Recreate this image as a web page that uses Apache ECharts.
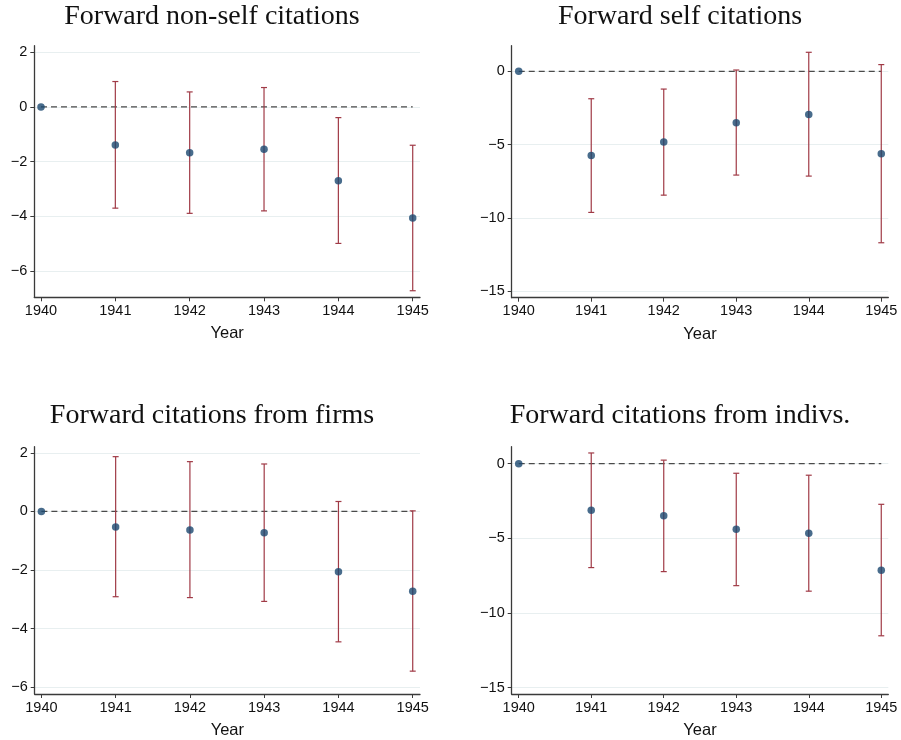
<!DOCTYPE html>
<html>
<head>
<meta charset="utf-8">
<script src="https://cdn.jsdelivr.net/npm/echarts@6/dist/echarts.min.js"></script>
<style>
html,body{margin:0;padding:0;background:#fff;}
#chart{width:901px;height:740px;}
</style>
</head>
<body>
<div id="chart"></div>
<script>
// ---------- data ----------
const years = [1940, 1941, 1942, 1943, 1944, 1945];
const titles = [
  "Forward non-self citations",
  "Forward self citations",
  "Forward citations from firms",
  "Forward citations from indivs."
];
const xAxisName = "Year";

const nonSelfEst = [0, -1.39, -1.67, -1.55, -2.70, -4.06];
const nonSelfLo  = [null, -3.70, -3.89, -3.80, -4.99, -6.72];
const nonSelfHi  = [null, 0.93, 0.55, 0.71, -0.39, -1.40];

const selfEst = [0, -5.74, -4.83, -3.51, -2.94, -5.62];
const selfLo  = [null, -9.63, -8.45, -7.08, -7.15, -11.70];
const selfHi  = [null, -1.87, -1.21, 0.09, 1.30, 0.46];

const firmsEst = [0, -0.53, -0.63, -0.73, -2.06, -2.72];
const firmsLo  = [null, -2.91, -2.94, -3.07, -4.45, -5.45];
const firmsHi  = [null, 1.87, 1.70, 1.62, 0.34, 0.02];

const indivEst = [0, -3.12, -3.49, -4.39, -4.66, -7.14];
const indivLo  = [null, -6.96, -7.23, -8.17, -8.54, -11.53];
const indivHi  = [null, 0.72, 0.24, -0.64, -0.77, -2.72];

const yTicksNonSelf = [-6, -4, -2, 0, 2];
const yTicksSelf    = [-15, -10, -5, 0];
const yTicksFirms   = [-6, -4, -2, 0, 2];
const yTicksIndiv   = [-15, -10, -5, 0];
const refLine = [0, 0];

// ---------- layout / style ----------
const panels = [
  {est: nonSelfEst, lo: nonSelfLo, hi: nonSelfHi, ticks: yTicksNonSelf,
   grid: {left: 34.3, top: 45.7, width: 385.7, height: 251.6}, ymin: -6.96, ymax: 2.24,
   xmin: 1939.910, xmax: 1945.098, title: [212, 17]},
  {est: selfEst, lo: selfLo, hi: selfHi, ticks: yTicksSelf,
   grid: {left: 511.7, top: 45.7, width: 376.6, height: 252}, ymin: -15.45, ymax: 1.75,
   xmin: 1939.903, xmax: 1945.097, title: [680, 17]},
  {est: firmsEst, lo: firmsLo, hi: firmsHi, ticks: yTicksFirms,
   grid: {left: 34.7, top: 446.7, width: 385.3, height: 251.6}, ymin: -6.23, ymax: 2.21,
   xmin: 1939.910, xmax: 1945.098, title: [212, 416]},
  {est: indivEst, lo: indivLo, hi: indivHi, ticks: yTicksIndiv,
   grid: {left: 511.7, top: 446.7, width: 376.6, height: 251.6}, ymin: -15.43, ymax: 1.14,
   xmin: 1939.903, xmax: 1945.097, title: [680, 416]}
];

const axisColor = '#3a3a3a';
const gridColor = '#e8eff0';
const ciColor = '#a03a46';
const ptColor = '#1a476f';
const sans = '"Liberation Sans", Arial, Helvetica, sans-serif';
const serif = '"Liberation Serif", "DejaVu Serif", serif';

function fmtY(v) { return v < 0 ? '\u2212' + Math.abs(v) : String(v); }

function renderCI(params, api) {
  const x = api.value(0), lo = api.value(1), hi = api.value(2);
  const a = api.coord([x, lo]), b = api.coord([x, hi]);
  const cw = 3;
  const style = {stroke: ciColor, lineWidth: 1.2, fill: null};
  return {
    type: 'group',
    children: [
      {type: 'line', shape: {x1: a[0], y1: a[1], x2: b[0], y2: b[1]}, style: style},
      {type: 'line', shape: {x1: a[0] - cw, y1: a[1], x2: a[0] + cw, y2: a[1]}, style: style},
      {type: 'line', shape: {x1: b[0] - cw, y1: b[1], x2: b[0] + cw, y2: b[1]}, style: style}
    ]
  };
}

const option = {
  backgroundColor: '#fff',
  animation: false,
  grid: [], xAxis: [], yAxis: [], series: [], graphic: []
};

panels.forEach((p, i) => {
  option.grid.push(Object.assign({containLabel: false}, p.grid));
  option.xAxis.push({
    type: 'value', gridIndex: i, min: p.xmin, max: p.xmax,
    name: xAxisName, nameLocation: 'middle', nameGap: 28,
    nameTextStyle: {fontFamily: sans, fontSize: 16.5, color: '#111'},
    axisLine: {show: true, onZero: false, lineStyle: {color: axisColor, width: 1.3}},
    axisTick: {show: true, length: 4, customValues: years, lineStyle: {color: axisColor}},
    axisLabel: {customValues: years, fontFamily: sans, fontSize: 14.5, color: '#111', margin: 6,
                formatter: v => String(v)},
    splitLine: {show: false}
  });
  option.yAxis.push({
    type: 'value', gridIndex: i, min: p.ymin, max: p.ymax,
    axisLine: {show: true, onZero: false, lineStyle: {color: axisColor, width: 1.3}},
    axisTick: {show: true, length: 4, customValues: p.ticks, lineStyle: {color: axisColor}},
    axisLabel: {customValues: p.ticks, fontFamily: sans, fontSize: 14.5, color: '#111', margin: 7,
                formatter: fmtY},
    splitLine: {show: true, lineStyle: {color: gridColor, width: 1}}
  });
  option.series.push({
    type: 'line', xAxisIndex: i, yAxisIndex: i, symbol: 'none',
    data: [[years[0], refLine[0]], [years[years.length - 1], refLine[1]]],
    lineStyle: {color: '#4a4a4a', width: 1.3, type: [6, 4]}, z: 2, silent: true
  });
  const ciData = [];
  years.forEach((y, k) => { if (p.lo[k] !== null) ciData.push([y, p.lo[k], p.hi[k]]); });
  option.series.push({
    type: 'custom', xAxisIndex: i, yAxisIndex: i, renderItem: renderCI,
    data: ciData, z: 3, silent: true
  });
  option.series.push({
    type: 'scatter', xAxisIndex: i, yAxisIndex: i, symbol: 'circle', symbolSize: 7.5,
    data: years.map((y, k) => [y, p.est[k]]),
    itemStyle: {color: ptColor}, z: 4, silent: true
  });
  option.graphic.push({
    type: 'text', x: p.title[0], y: p.title[1],
    style: {text: titles[i], font: '28px ' + serif, fill: '#111', align: 'center', verticalAlign: 'middle'}
  });
});

const chart = echarts.init(document.getElementById('chart'), null, {renderer: 'canvas'});
chart.setOption(option);
</script>
</body>
</html>
